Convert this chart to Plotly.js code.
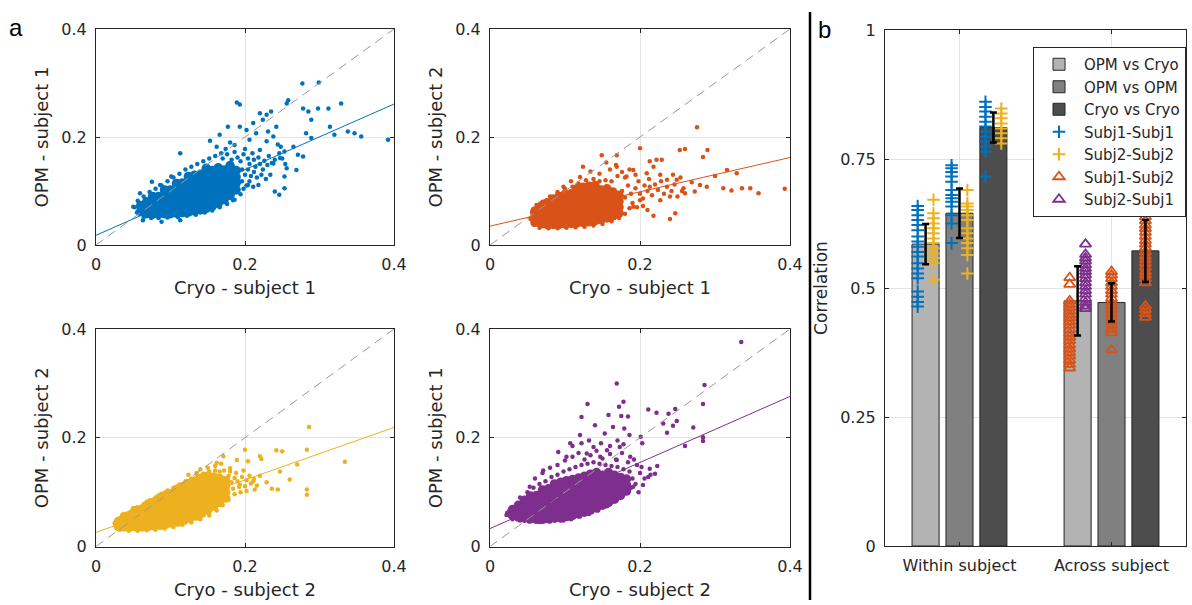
<!DOCTYPE html>
<html><head><meta charset="utf-8">
<script src="https://cdn.plot.ly/plotly-3.0.1.min.js"></script>
<style>html,body{margin:0;padding:0;background:#fff;} #chart{width:1192px;height:605px;}</style>
</head><body><div id="chart"></div>
<script>
// ---------- Panel a data ----------
const fitX = [0, 0.4];
const identityXY = [0, 0.4];
const tlFitY = [0.018, 0.261];
const trFitY = [0.035, 0.162];
const blFitY = [0.026, 0.219];
const brFitY = [0.033, 0.276];

// dense cores: column x positions and y values per column
const tlDenseCols = [0.060,0.068,0.076,0.084,0.092,0.100,0.108,0.116,0.124,0.132,0.140,0.148,0.156,0.164,0.172,0.180,0.188];
const tlDenseRows = [
 [0.062,0.073],[0.058,0.069,0.080],[0.057,0.068,0.079,0.090],[0.057,0.068,0.079,0.090],
 [0.058,0.069,0.080,0.091,0.102],[0.058,0.069,0.080,0.091,0.102],[0.059,0.070,0.081,0.092,0.103,0.114],
 [0.060,0.071,0.082,0.093,0.104,0.115],[0.061,0.072,0.083,0.094,0.105,0.116,0.127],
 [0.063,0.074,0.085,0.096,0.107,0.118,0.129],[0.065,0.076,0.087,0.098,0.109,0.120,0.131],
 [0.068,0.079,0.090,0.101,0.112,0.123,0.134,0.142],[0.072,0.083,0.094,0.105,0.116,0.127,0.138],
 [0.077,0.088,0.099,0.110,0.121,0.132,0.143],[0.084,0.095,0.106,0.117,0.128,0.139],
 [0.092,0.103,0.114,0.125,0.136,0.147],[0.102,0.114,0.126,0.138]];
const tlSparse = [
 [0.277,0.299],[0.299,0.301],[0.258,0.268],[0.256,0.262],[0.278,0.253],[0.285,0.247],[0.298,0.253],[0.312,0.253],
 [0.329,0.262],[0.289,0.232],[0.314,0.219],[0.320,0.204],[0.338,0.210],[0.347,0.207],[0.356,0.201],[0.392,0.195],
 [0.289,0.198],[0.282,0.207],[0.265,0.182],[0.271,0.167],[0.278,0.164],[0.253,0.173],[0.248,0.182],[0.247,0.161],
 [0.238,0.151],[0.256,0.142],[0.269,0.139],[0.253,0.127],[0.240,0.099],[0.246,0.093],[0.253,0.105],[0.189,0.264],
 [0.193,0.260],[0.193,0.219],[0.177,0.219],[0.166,0.204],[0.153,0.193],[0.113,0.170],[0.162,0.182],[0.229,0.241],
 [0.235,0.247],[0.242,0.219],[0.220,0.244],[0.224,0.232],[0.211,0.226],[0.215,0.207],[0.202,0.213],[0.206,0.195],
 [0.231,0.210],[0.238,0.201],[0.229,0.192],[0.220,0.176],[0.211,0.108],[0.218,0.111],[0.204,0.111],[0.193,0.117],
 [0.139,0.071],[0.157,0.074],[0.184,0.083],[0.113,0.046],[0.088,0.043],[0.063,0.046],[0.050,0.071],[0.059,0.096],
 [0.075,0.117],[0.101,0.127],[0.086,0.111],
 [0.170,0.160],[0.176,0.168],[0.182,0.158],[0.186,0.172],[0.190,0.162],[0.194,0.155],[0.198,0.168],[0.200,0.178],
 [0.204,0.160],[0.206,0.150],[0.210,0.170],[0.212,0.158],[0.214,0.145],[0.218,0.162],[0.220,0.150],[0.224,0.140],
 [0.226,0.156],[0.230,0.148],[0.232,0.165],[0.236,0.152],[0.240,0.158],[0.196,0.140],[0.200,0.130],[0.204,0.140],
 [0.208,0.128],[0.212,0.135],[0.216,0.125],[0.222,0.130],[0.228,0.122],[0.234,0.130],[0.196,0.118],[0.202,0.110],
 [0.186,0.185],[0.180,0.190],[0.174,0.178],[0.168,0.170],[0.160,0.165],[0.152,0.160],[0.144,0.155],[0.136,0.150],
 [0.128,0.145],[0.120,0.140],[0.112,0.132],[0.104,0.125],[0.096,0.118],[0.088,0.110],[0.080,0.104],[0.072,0.098],
 [0.064,0.090],[0.056,0.082],[0.052,0.070],[0.055,0.060],[0.064,0.052],[0.074,0.050],[0.084,0.050],[0.096,0.051],
 [0.110,0.052],[0.122,0.054],[0.134,0.056],[0.146,0.060],[0.156,0.064],[0.166,0.070],[0.176,0.076],[0.186,0.084],
 [0.194,0.094],[0.198,0.104],[0.206,0.118],[0.246,0.170],[0.250,0.160],[0.244,0.186],[0.254,0.150]];

const trDenseCols = [0.060,0.068,0.076,0.084,0.092,0.100,0.108,0.116,0.124,0.132,0.140,0.148,0.156,0.164,0.172];
const trDenseRows = [
 [0.042,0.053,0.063],[0.039,0.050,0.061,0.071],[0.038,0.049,0.060,0.071,0.078],[0.038,0.049,0.060,0.071,0.082],
 [0.038,0.049,0.060,0.071,0.082,0.090],[0.039,0.050,0.061,0.072,0.083,0.094],[0.040,0.051,0.062,0.073,0.084,0.095],
 [0.041,0.052,0.063,0.074,0.085,0.096,0.104],[0.042,0.053,0.064,0.075,0.086,0.097,0.107],
 [0.043,0.054,0.065,0.076,0.087,0.098,0.109],[0.045,0.056,0.067,0.078,0.089,0.100,0.110],
 [0.047,0.058,0.069,0.080,0.091,0.102],[0.050,0.061,0.072,0.083,0.094,0.104],
 [0.054,0.065,0.076,0.087,0.098],[0.059,0.070,0.081,0.092]];
const trSparse = [
 [0.276,0.218],[0.290,0.176],[0.284,0.163],[0.253,0.176],[0.260,0.178],[0.200,0.179],[0.149,0.166],[0.169,0.166],
 [0.155,0.153],[0.124,0.145],[0.316,0.139],[0.329,0.133],[0.300,0.128],[0.393,0.104],[0.358,0.096],[0.347,0.105],
 [0.336,0.105],[0.322,0.101],[0.311,0.105],[0.289,0.108],[0.273,0.099],[0.280,0.111],[0.269,0.116],[0.258,0.105],
 [0.260,0.096],[0.249,0.121],[0.244,0.130],[0.236,0.121],[0.247,0.059],[0.240,0.048],[0.218,0.054],[0.222,0.158],
 [0.229,0.158],[0.213,0.155],[0.218,0.145],[0.209,0.133],[0.227,0.130],[0.240,0.090],[0.213,0.108],[0.200,0.083],
 [0.227,0.083],[0.191,0.071],[0.173,0.059],[0.076,0.083],[0.084,0.090],[0.067,0.077],[0.058,0.065],[0.098,0.108],
 [0.169,0.145],[0.191,0.139],[0.182,0.127],
 [0.176,0.100],[0.180,0.088],[0.184,0.110],[0.188,0.095],[0.190,0.078],[0.194,0.105],[0.198,0.118],[0.200,0.095],
 [0.204,0.086],[0.206,0.110],[0.210,0.100],[0.212,0.122],[0.216,0.092],[0.220,0.112],[0.224,0.102],[0.228,0.118],
 [0.232,0.095],[0.236,0.108],[0.180,0.125],[0.176,0.135],[0.170,0.128],[0.162,0.118],[0.154,0.120],[0.146,0.118],
 [0.138,0.122],[0.128,0.120],[0.118,0.114],[0.110,0.108],[0.100,0.104],[0.090,0.098],[0.080,0.090],[0.070,0.080],
 [0.062,0.074],[0.056,0.060],[0.054,0.048],[0.058,0.038],[0.066,0.032],[0.078,0.031],[0.090,0.031],[0.102,0.032],
 [0.114,0.033],[0.126,0.034],[0.138,0.036],[0.150,0.039],[0.162,0.044],[0.172,0.050],[0.180,0.058],[0.186,0.068],
 [0.196,0.070],[0.204,0.072],[0.210,0.065],[0.186,0.140],[0.194,0.130],[0.168,0.148],[0.160,0.140],[0.146,0.132],
 [0.134,0.136],[0.120,0.126],[0.108,0.118],[0.242,0.100],[0.246,0.112],[0.250,0.090],[0.256,0.100],[0.254,0.125]];

const blDenseCols = [0.030,0.038,0.046,0.054,0.062,0.070,0.078,0.086,0.094,0.102,0.110,0.118,0.126,0.134,0.142,0.150,0.158,0.166,0.174];
const blDenseRows = [
 [0.037,0.046],[0.036,0.046,0.055],[0.036,0.047,0.058],[0.036,0.047,0.058,0.066],[0.036,0.047,0.058,0.069],
 [0.037,0.048,0.059,0.070,0.078],[0.038,0.049,0.060,0.071,0.082],[0.039,0.050,0.061,0.072,0.083,0.090],
 [0.041,0.052,0.063,0.074,0.085,0.095],[0.043,0.054,0.065,0.076,0.087,0.098],
 [0.045,0.056,0.067,0.078,0.089,0.100,0.106],[0.048,0.059,0.070,0.081,0.092,0.103,0.111],
 [0.052,0.063,0.074,0.085,0.096,0.107,0.116],[0.056,0.067,0.078,0.089,0.100,0.111,0.121],
 [0.061,0.072,0.083,0.094,0.105,0.116,0.126],[0.067,0.078,0.089,0.100,0.111,0.122,0.129],
 [0.074,0.085,0.096,0.107,0.118,0.128],[0.081,0.092,0.103,0.114,0.125],[0.089,0.100,0.111,0.121]];
const blSparse = [
 [0.286,0.220],[0.283,0.178],[0.242,0.177],[0.250,0.175],[0.334,0.156],[0.270,0.151],[0.247,0.138],[0.260,0.123],
 [0.283,0.105],[0.283,0.095],[0.236,0.106],[0.244,0.105],[0.229,0.118],[0.220,0.166],[0.222,0.161],[0.204,0.157],
 [0.189,0.159],[0.200,0.178],[0.171,0.166],[0.162,0.154],[0.211,0.120],[0.200,0.111],[0.202,0.102],[0.213,0.105],
 [0.193,0.114],[0.186,0.126],[0.180,0.138],[0.153,0.086],[0.166,0.092],[0.139,0.068],[0.025,0.043],[0.041,0.055],
 [0.050,0.071],[0.081,0.086],[0.104,0.105],[0.122,0.055],[0.135,0.135],
 [0.178,0.130],[0.182,0.118],[0.184,0.106],[0.188,0.135],[0.190,0.120],[0.192,0.110],[0.196,0.128],[0.198,0.140],
 [0.202,0.122],[0.206,0.130],[0.208,0.116],[0.212,0.124],[0.176,0.098],[0.180,0.144],[0.172,0.140],[0.166,0.138],
 [0.160,0.140],[0.152,0.138],[0.144,0.134],[0.136,0.130],[0.128,0.125],[0.120,0.120],[0.112,0.114],[0.104,0.108],
 [0.096,0.103],[0.088,0.097],[0.080,0.090],[0.072,0.085],[0.064,0.078],[0.056,0.072],[0.048,0.066],[0.040,0.060],
 [0.032,0.052],[0.026,0.040],[0.032,0.031],[0.044,0.029],[0.056,0.029],[0.068,0.030],[0.080,0.031],[0.092,0.033],
 [0.104,0.036],[0.116,0.040],[0.128,0.044],[0.140,0.050],[0.152,0.057],[0.162,0.066],[0.170,0.076],[0.178,0.086],
 [0.186,0.096],[0.160,0.148],[0.150,0.145],[0.168,0.152],[0.140,0.142],[0.124,0.132],[0.216,0.112],[0.220,0.130],
 [0.194,0.100],[0.174,0.112]];

const brDenseCols = [0.030,0.038,0.046,0.054,0.062,0.070,0.078,0.086,0.094,0.102,0.110,0.118,0.126,0.134,0.142,0.150,0.158,0.166,0.174,0.182];
const brDenseRows = [
 [0.057,0.068],[0.054,0.065,0.076],[0.052,0.063,0.074,0.085],[0.051,0.062,0.073,0.084,0.093],
 [0.050,0.061,0.072,0.083,0.094],[0.050,0.061,0.072,0.083,0.094,0.104],[0.051,0.062,0.073,0.084,0.095,0.106],
 [0.052,0.063,0.074,0.085,0.096,0.107,0.115],[0.053,0.064,0.075,0.086,0.097,0.108,0.118],
 [0.055,0.066,0.077,0.088,0.099,0.110,0.121],[0.057,0.068,0.079,0.090,0.101,0.112,0.123],
 [0.060,0.071,0.082,0.093,0.104,0.115,0.126],[0.063,0.074,0.085,0.096,0.107,0.118,0.129],
 [0.067,0.078,0.089,0.100,0.111,0.122,0.133],[0.071,0.082,0.093,0.104,0.115,0.126,0.136],
 [0.076,0.087,0.098,0.109,0.120,0.131],[0.081,0.092,0.103,0.114,0.125,0.136],
 [0.087,0.098,0.109,0.120,0.131],[0.094,0.105,0.116,0.127],[0.102,0.113,0.124]];
const brSparse = [
 [0.335,0.376],[0.169,0.300],[0.286,0.297],[0.130,0.262],[0.178,0.266],[0.172,0.257],[0.284,0.262],[0.211,0.252],
 [0.222,0.246],[0.247,0.253],[0.238,0.244],[0.158,0.242],[0.122,0.238],[0.175,0.240],[0.184,0.239],[0.249,0.231],
 [0.244,0.222],[0.231,0.226],[0.236,0.209],[0.271,0.219],[0.140,0.223],[0.164,0.220],[0.179,0.217],[0.153,0.208],
 [0.186,0.205],[0.284,0.201],[0.284,0.194],[0.260,0.185],[0.201,0.202],[0.203,0.190],[0.120,0.205],[0.107,0.190],
 [0.091,0.174],[0.102,0.165],[0.071,0.140],[0.053,0.110],[0.038,0.079],[0.023,0.062],[0.202,0.146],[0.213,0.143],
 [0.223,0.148],[0.220,0.134],[0.211,0.128],[0.204,0.113],[0.191,0.110],[0.198,0.100],[0.187,0.165],[0.173,0.183],
 [0.156,0.177],[0.138,0.183],[0.129,0.171],[0.147,0.165],[0.169,0.159],[0.098,0.048],[0.116,0.060],
 [0.040,0.090],[0.050,0.100],[0.058,0.108],[0.066,0.115],[0.074,0.120],[0.082,0.128],[0.090,0.132],[0.098,0.138],
 [0.106,0.142],[0.114,0.146],[0.122,0.150],[0.130,0.152],[0.138,0.155],[0.146,0.152],[0.154,0.150],[0.162,0.148],
 [0.170,0.146],[0.178,0.142],[0.186,0.138],[0.190,0.125],[0.194,0.115],[0.188,0.108],[0.176,0.100],[0.166,0.084],
 [0.156,0.074],[0.144,0.066],[0.132,0.060],[0.120,0.055],[0.108,0.050],[0.094,0.048],[0.080,0.046],[0.066,0.045],
 [0.052,0.046],[0.040,0.048],[0.030,0.050],[0.022,0.058],[0.026,0.066],[0.100,0.158],[0.110,0.165],[0.118,0.172],
 [0.126,0.160],[0.134,0.168],[0.142,0.176],[0.150,0.162],[0.160,0.170],[0.168,0.160],[0.176,0.172],[0.184,0.155],
 [0.090,0.150],[0.080,0.145],[0.070,0.135],[0.060,0.125],[0.110,0.185],[0.122,0.190],[0.132,0.195],[0.148,0.190],
 [0.160,0.185],[0.170,0.195],[0.178,0.188],[0.192,0.160],[0.196,0.150],[0.200,0.135],[0.206,0.125],[0.214,0.132]];

// ---------- Panel b data ----------
const groups = ['Within subject', 'Across subject'];
const groupPos = [1, 2];
const barNames = ['OPM vs Cryo', 'OPM vs OPM', 'Cryo vs Cryo'];
const opmCryo = [0.585, 0.475];
const opmOpm = [0.645, 0.472];
const cryoCryo = [0.811, 0.572];
const errOpmCryo = [0.039, 0.067];
const errOpmOpm = [0.048, 0.037];
const errCryoCryo = [0.029, 0.060];

const s11W1 = [0.659,0.651,0.641,0.632,0.622,0.612,0.600,0.590,0.580,0.570,0.561,0.548,0.538,0.528,0.519,0.493,0.483,0.473,0.464];
const s22W1 = [0.671,0.645,0.635,0.625,0.616,0.606,0.596,0.587,0.577,0.567,0.558,0.548,0.516];
const s11W2 = [0.738,0.732,0.725,0.716,0.706,0.690,0.680,0.674,0.667,0.658,0.641,0.625,0.587];
const s22W2 = [0.690,0.664,0.658,0.651,0.641,0.632,0.616,0.606,0.596,0.587,0.577,0.564,0.528];
const s11W3 = [0.861,0.851,0.842,0.832,0.822,0.813,0.803,0.793,0.784,0.774,0.764,0.716];
const s22W3 = [0.848,0.838,0.829,0.819,0.809,0.800,0.790,0.780];
const s12A1 = [0.520,0.507,0.475,0.468,0.462,0.455,0.448,0.442,0.435,0.428,0.420,0.412,0.405,0.398,0.390,0.382,0.375,0.368,0.360,0.352,0.345];
const s21A1 = [0.585,0.565,0.558,0.552,0.545,0.538,0.532,0.525,0.518,0.510,0.503,0.495,0.488,0.480,0.472,0.465,0.460];
const s12A2 = [0.532,0.525,0.518,0.510,0.503,0.495,0.488,0.480,0.472,0.465,0.458,0.450,0.443,0.435,0.428,0.420,0.413,0.380];
const s12A3 = [0.680,0.645,0.638,0.630,0.622,0.615,0.608,0.600,0.592,0.585,0.578,0.570,0.562,0.555,0.548,0.540,0.532,0.525,0.518,0.510,0.465,0.458,0.450,0.443];

// ---------- styling ----------
const C = {blue:'#0072BD', orange:'#D95319', yellow:'#EDB120', purple:'#7E2F8E'};
const FONT = 'DejaVu Sans, sans-serif';
const TXT = '#262626';

function flat(cols, rows){ const xs=[], ys=[]; cols.forEach((c,i)=>rows[i].forEach(v=>{xs.push(c); ys.push(v);})); return {x:xs, y:ys}; }
function pairs(p){ return {x:p.map(d=>d[0]), y:p.map(d=>d[1])}; }

const traces = [];
function scatterPanel(n, color, cols, rows, sparse, fitY){
  const xa = 'x'+(n===1?'':n), ya = 'y'+(n===1?'':n);
  const d = flat(cols, rows), s = pairs(sparse);
  traces.push({type:'scatter', mode:'markers', x:s.x, y:s.y, xaxis:xa, yaxis:ya, showlegend:false, hoverinfo:'skip',
    marker:{color:color, size:4.5}});
  traces.push({type:'scatter', mode:'markers', x:d.x, y:d.y, xaxis:xa, yaxis:ya, showlegend:false, hoverinfo:'skip',
    marker:{color:color, size:9.5}});
  traces.push({type:'scatter', mode:'lines', x:identityXY, y:identityXY, xaxis:xa, yaxis:ya, showlegend:false, hoverinfo:'skip',
    line:{color:'#999999', width:1, dash:'9px,6px'}});
  traces.push({type:'scatter', mode:'lines', x:fitX, y:fitY, xaxis:xa, yaxis:ya, showlegend:false, hoverinfo:'skip',
    line:{color:color, width:1}});
}
scatterPanel(1, C.blue, tlDenseCols, tlDenseRows, tlSparse, tlFitY);
scatterPanel(2, C.orange, trDenseCols, trDenseRows, trSparse, trFitY);
scatterPanel(3, C.yellow, blDenseCols, blDenseRows, blSparse, blFitY);
scatterPanel(4, C.purple, brDenseCols, brDenseRows, brSparse, brFitY);

// panel b
const barOffset = [-0.223, 0, 0.223];
const barVals = [opmCryo, opmOpm, cryoCryo];
const barErrs = [errOpmCryo, errOpmOpm, errCryoCryo];
const barColors = ['#b3b3b3', '#808080', '#4d4d4d'];
barVals.forEach((vals,k)=>{
  traces.push({type:'bar', name:barNames[k], x:groupPos.map(g=>g+barOffset[k]), y:vals, width:0.178,
    xaxis:'x5', yaxis:'y5', hoverinfo:'skip',
    marker:{color:barColors[k], line:{color:'#262626', width:1}}});
});
function markerSeries(name, color, symbol, parts){
  const xs=[], ys=[];
  parts.forEach(p=>p.vals.forEach(v=>{xs.push(p.pos); ys.push(v);}));
  const tri = symbol.indexOf('triangle')===0;
  traces.push({type:'scatter', mode:'markers', name:name, x:xs, y:ys, xaxis:'x5', yaxis:'y5', hoverinfo:'skip',
    marker:{symbol:symbol, size:tri?10:9, color:color, line:{color:color, width:tri?1.8:2}}});
}
const sh = 0.052;
markerSeries('Subj1-Subj1', C.blue, 'cross-thin-open', [
  {pos:groupPos[0]+barOffset[0]-sh, vals:s11W1},{pos:groupPos[0]+barOffset[1]-sh, vals:s11W2},{pos:groupPos[0]+barOffset[2]-sh, vals:s11W3}]);
markerSeries('Subj2-Subj2', C.yellow, 'cross-thin-open', [
  {pos:groupPos[0]+barOffset[0]+sh, vals:s22W1},{pos:groupPos[0]+barOffset[1]+sh, vals:s22W2},{pos:groupPos[0]+barOffset[2]+sh, vals:s22W3}]);
markerSeries('Subj1-Subj2', C.orange, 'triangle-up-open', [
  {pos:groupPos[1]+barOffset[0]-sh, vals:s12A1},{pos:groupPos[1]+barOffset[1], vals:s12A2},{pos:groupPos[1]+barOffset[2], vals:s12A3}]);
markerSeries('Subj2-Subj1', C.purple, 'triangle-up-open', [
  {pos:groupPos[1]+barOffset[0]+sh, vals:s21A1}]);
// error bars
const ex=[], ey=[], ee=[];
barVals.forEach((vals,k)=>vals.forEach((v,g)=>{ex.push(groupPos[g]+barOffset[k]); ey.push(v); ee.push(barErrs[k][g]);}));
traces.push({type:'scatter', mode:'markers', x:ex, y:ey, xaxis:'x5', yaxis:'y5', showlegend:false, hoverinfo:'skip',
  marker:{size:1, color:'rgba(0,0,0,0)'},
  error_y:{type:'data', array:ee, visible:true, color:'#000000', thickness:2.5, width:3.5}});

// ---------- axes ----------
function sAxis(domain, anchor, title){
  return {domain:domain, anchor:anchor, range:[0,0.4], tickvals:[0,0.2,0.4], ticktext:['0','0.2','0.4'],
    showgrid:true, gridcolor:'#e3e3e3', gridwidth:1, zeroline:false, showline:true, mirror:'ticks',
    linecolor:'#262626', linewidth:1, ticks:'inside', ticklen:4, tickcolor:'#262626', ticklabelstandoff:5,
    tickfont:{family:FONT, size:16, color:TXT},
    title:{text:title, font:{family:FONT, size:18, color:TXT}, standoff:8}, automargin:false, fixedrange:true};
}
const xd1=[96/1192, 394/1192], xd2=[490/1192, 790/1192];
const yd1=[1-245/605, 1-29/605], yd2=[1-546.5/605, 1-329/605];

const layout = {
  width:1192, height:605, margin:{l:0,r:0,t:0,b:0}, paper_bgcolor:'#fff', plot_bgcolor:'#fff',
  font:{family:FONT, color:TXT}, barmode:'overlay', hovermode:false,
  xaxis: sAxis(xd1,'y','Cryo - subject 1'),  yaxis: sAxis(yd1,'x','OPM - subject 1'),
  xaxis2: sAxis(xd2,'y2','Cryo - subject 1'), yaxis2: sAxis(yd1,'x2','OPM - subject 2'),
  xaxis3: sAxis(xd1,'y3','Cryo - subject 2'), yaxis3: sAxis(yd2,'x3','OPM - subject 2'),
  xaxis4: sAxis(xd2,'y4','Cryo - subject 2'), yaxis4: sAxis(yd2,'x4','OPM - subject 1'),
  xaxis5: {domain:[885/1192, 1186/1192], anchor:'y5', range:[0.51,2.49], tickvals:groupPos, ticktext:groups,
    showgrid:true, gridcolor:'#e3e3e3', zeroline:false, showline:true, mirror:'ticks', linecolor:'#262626', linewidth:1,
    ticks:'inside', ticklen:4, tickcolor:'#262626', ticklabelstandoff:5, tickfont:{family:FONT, size:16, color:TXT}, fixedrange:true},
  yaxis5: {domain:[1-546/605, 1-30/605], anchor:'x5', range:[0,1], tickvals:[0,0.25,0.5,0.75,1], ticktext:['0','0.25','0.5','0.75','1'],
    showgrid:true, gridcolor:'#e3e3e3', zeroline:false, showline:true, mirror:'ticks', linecolor:'#262626', linewidth:1,
    ticks:'inside', ticklen:4, tickcolor:'#262626', ticklabelstandoff:5, tickfont:{family:FONT, size:16, color:TXT},
    title:{text:'Correlation', font:{family:FONT, size:17, color:TXT}, standoff:8}, fixedrange:true},
  legend:{x:1033/1192, y:1-47/605, xanchor:'left', yanchor:'top', bgcolor:'#ffffff', bordercolor:'#262626', borderwidth:1,
    font:{family:FONT, size:15, color:TXT}, itemwidth:40, tracegroupgap:0},
  shapes:[{type:'line', xref:'paper', yref:'paper', x0:810/1192, x1:810/1192, y0:1-600/605, y1:1-12/605,
    line:{color:'#000', width:2.5}}],
  annotations:[
    {text:'a', xref:'paper', yref:'paper', x:7/1192, y:1-12/605, xanchor:'left', yanchor:'top', showarrow:false,
     font:{family:'Liberation Sans, Arial, sans-serif', size:24, color:'#000'}},
    {text:'b', xref:'paper', yref:'paper', x:816/1192, y:1-14/605, xanchor:'left', yanchor:'top', showarrow:false,
     font:{family:'Liberation Sans, Arial, sans-serif', size:24, color:'#000'}}
  ]
};
Plotly.newPlot('chart', traces, layout, {staticPlot:true, displayModeBar:false});
</script></body></html>
